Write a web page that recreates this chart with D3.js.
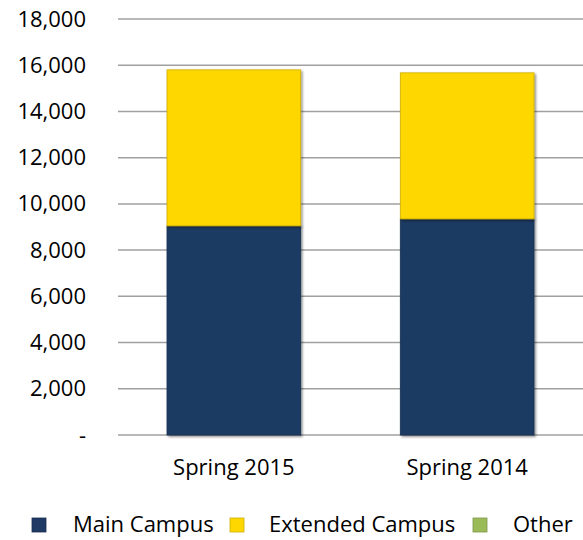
<!DOCTYPE html>
<html lang="en">
<head>
  <meta charset="UTF-8">
  <title>Enrollment by Campus</title>
  <script src="https://d3js.org/d3.v7.min.js"></script>
  <style>
    body {
      margin: 0;
      padding: 0;
      background: white;
      font-family: 'Open Sans', sans-serif;
    }
    svg {
      display: block;
    }
    .axis text, .legend text {
      font-family: 'Open Sans', sans-serif;
      font-size: 22px;
      fill: #000;
    }
  </style>
</head>
<body>
  <div id="chart"></div>

  <script>
    const terms = ["Spring 2015", "Spring 2014"];
    const mainCampus = [9050, 9350];
    const extendedCampus = [6750, 6320];
    const other = [0, 0];
    const yTicks = [0, 2000, 4000, 6000, 8000, 10000, 12000, 14000, 16000, 18000];
    const seriesNames = ["Main Campus", "Extended Campus", "Other"];
    const seriesColors = ["#1f3a64", "#ffd700", "#9bbb59"];

    const width = 583, height = 540;
    const plotLeft = 118, plotRight = 583, plotTop = 19, plotBottom = 435;

    const svg = d3.select("#chart").append("svg")
      .attr("width", width)
      .attr("height", height);

    const x = d3.scaleBand().domain(terms).range([plotLeft, plotRight])
      .paddingInner(0.427).paddingOuter(0.21);
    const y = d3.scaleLinear().domain([0, 18000]).range([plotBottom, plotTop]);

    // gridlines
    svg.append("g").selectAll("line")
      .data(yTicks)
      .enter().append("line")
      .attr("x1", plotLeft).attr("x2", plotRight)
      .attr("y1", d => y(d)).attr("y2", d => y(d))
      .attr("stroke", "#a0a0a0")
      .attr("stroke-width", 1.5);

    // y axis labels
    const fmt = d3.format(",");
    svg.append("g")
      .attr("class", "axis")
      .attr("transform", `translate(${plotLeft}, 0)`)
      .call(d3.axisLeft(y).tickValues(yTicks).tickSize(0).tickPadding(32)
        .tickFormat(d => d === 0 ? "-" : fmt(d)))
      .call(g => g.attr("font-family", null).attr("font-size", null))
      .call(g => g.select(".domain").remove());

    // stacked data
    const rows = terms.map((t, i) => ({
      term: t,
      "Main Campus": mainCampus[i],
      "Extended Campus": extendedCampus[i],
      "Other": other[i]
    }));
    const stacked = d3.stack().keys(seriesNames)(rows);

    const defs = svg.append("defs");
    const filter = defs.append("filter").attr("id", "shadow")
      .attr("x", "-5%").attr("y", "-5%").attr("width", "115%").attr("height", "115%");
    filter.append("feDropShadow")
      .attr("dx", 1.5).attr("dy", 1.5).attr("stdDeviation", 1)
      .attr("flood-color", "#000").attr("flood-opacity", 0.45);

    stacked.forEach((s, si) => {
      svg.append("g").selectAll("rect")
        .data(s.filter(d => d[1] - d[0] > 0))
        .enter().append("rect")
        .attr("x", d => x(d.data.term))
        .attr("width", x.bandwidth())
        .attr("y", d => y(d[1]))
        .attr("height", d => y(d[0]) - y(d[1]))
        .attr("fill", seriesColors[si])
        .attr("stroke", d3.color(seriesColors[si]).darker(0.6))
        .attr("stroke-width", 0.8)
        .attr("filter", "url(#shadow)");
    });

    // x axis labels
    svg.append("g")
      .attr("class", "axis")
      .attr("transform", `translate(0, ${plotBottom})`)
      .call(d3.axisBottom(x).tickSize(0).tickPadding(24))
      .call(g => g.attr("font-family", null).attr("font-size", null))
      .call(g => g.select(".domain").remove());

    // legend
    const legendX = [32, 230, 473];
    const legendTextX = [73, 269, 513];
    const legend = svg.append("g").attr("class", "legend").selectAll("g")
      .data(seriesNames)
      .enter().append("g")
      .attr("transform", (d, i) => `translate(${legendX[i]}, 518)`);
    legend.append("rect")
      .attr("width", 14).attr("height", 14)
      .attr("fill", (d, i) => seriesColors[i])
      .attr("stroke", (d, i) => d3.color(seriesColors[i]).darker(0.6))
      .attr("stroke-width", 0.8);
    legend.append("text")
      .attr("x", (d, i) => legendTextX[i] - legendX[i])
      .attr("y", 14)
      .text(d => d);
  </script>
</body>
</html>
